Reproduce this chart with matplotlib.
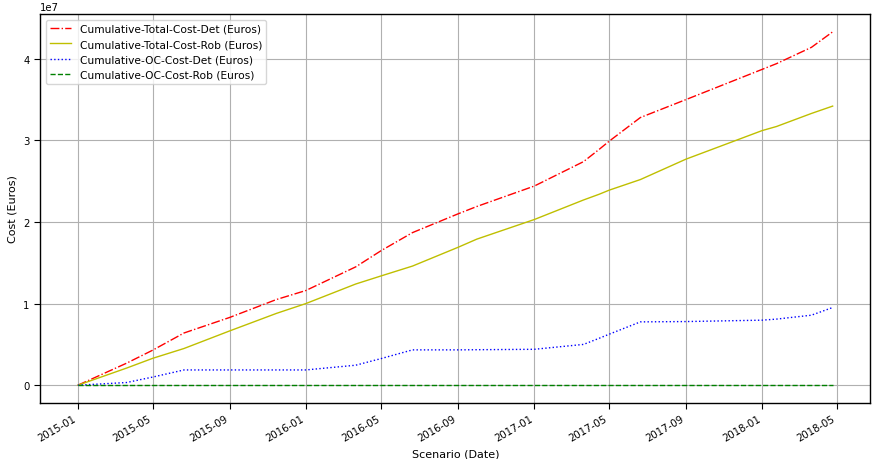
import matplotlib
matplotlib.use("Agg")
import matplotlib.pyplot as plt
import matplotlib.dates as mdates
import numpy as np
import pandas as pd

# datas de referência (cenários)
dates = pd.to_datetime([
    "2015-01-01", "2015-03-20", "2015-05-01", "2015-06-20", "2015-09-01",
    "2015-11-15", "2016-01-01", "2016-03-21", "2016-05-01", "2016-06-20",
    "2016-09-01", "2016-10-01", "2017-01-01", "2017-03-21", "2017-04-15",
    "2017-05-01", "2017-06-20", "2017-09-01", "2018-01-01", "2018-01-24",
    "2018-03-21", "2018-04-24",
])

total_det = [0, 2.7e6, 4.3e6, 6.4e6, 8.3e6, 1.05e7, 1.16e7, 1.45e7, 1.65e7, 1.87e7,
             2.10e7, 2.19e7, 2.44e7, 2.74e7, 2.89e7, 2.99e7, 3.28e7, 3.50e7, 3.87e7,
             3.94e7, 4.14e7, 4.33e7]
total_rob = [0, 2.1e6, 3.3e6, 4.5e6, 6.65e6, 8.8e6, 1.0e7, 1.24e7, 1.34e7, 1.46e7,
             1.69e7, 1.79e7, 2.03e7, 2.27e7, 2.34e7, 2.39e7, 2.52e7, 2.77e7, 3.12e7,
             3.17e7, 3.33e7, 3.42e7]
oc_det = [0, 0.33e6, 1.0e6, 1.87e6, 1.87e6, 1.87e6, 1.87e6, 2.45e6, 3.27e6, 4.33e6,
          4.33e6, 4.35e6, 4.4e6, 5.0e6, 5.75e6, 6.25e6, 7.76e6, 7.8e6, 7.97e6,
          8.1e6, 8.58e6, 9.52e6]
oc_rob = [0] * len(dates)


def graph():
    fig = plt.figure(figsize=(8.73, 4.6), dpi=100)
    ax = fig.add_axes([0.046, 0.122, 0.951, 0.845])

    ax.plot(dates, total_det, 'r-.', lw=1, label="Cumulative-Total-Cost-Det (Euros)")
    ax.plot(dates, total_rob, 'y-', lw=1, label="Cumulative-Total-Cost-Rob (Euros)")
    ax.plot(dates, oc_det, 'b:', lw=1, label="Cumulative-OC-Cost-Det (Euros)")
    ax.plot(dates, oc_rob, 'g--', lw=1, label="Cumulative-OC-Cost-Rob (Euros)")

    ax.xaxis.set_major_locator(mdates.MonthLocator(bymonth=[1, 5, 9]))
    ax.xaxis.set_major_formatter(mdates.DateFormatter("%Y-%m"))
    ax.tick_params(labelsize=7.3, length=4)
    ax.yaxis.get_offset_text().set_fontsize(7.3)
    for lab in ax.get_xticklabels():
        lab.set_rotation(30)
        lab.set_ha("right")
    for sp in ax.spines.values():
        sp.set_linewidth(1.0)

    ax.grid(True)
    ax.set_xlabel("Scenario (Date)", fontsize=8)
    ax.set_ylabel("Cost (Euros)", fontsize=8)
    ax.legend(loc="upper left", fontsize=7.7)
    fig.savefig("out.png", dpi=100)


graph()
